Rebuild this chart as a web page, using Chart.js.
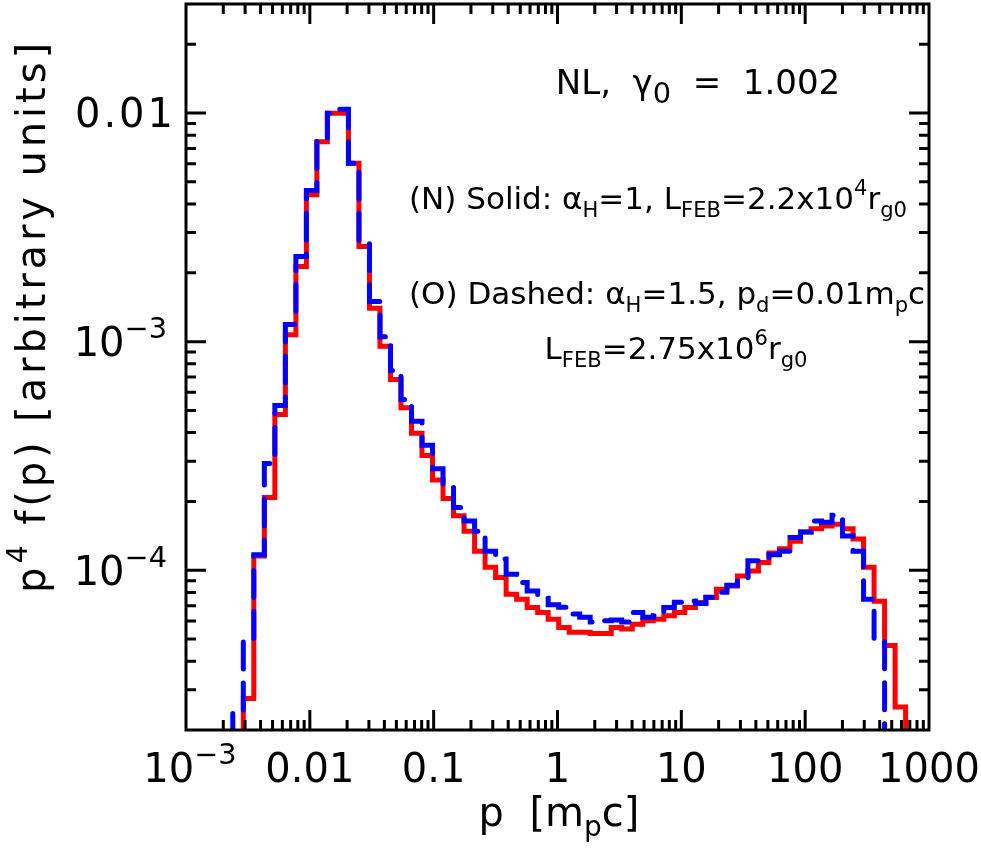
<!DOCTYPE html>
<html><head><meta charset="utf-8">
<script src="https://cdn.jsdelivr.net/npm/chart.js@4/dist/chart.umd.min.js"></script>
<style>html,body{margin:0;padding:0;background:#fff;}canvas{display:block;}</style>
</head><body>
<canvas id="c" width="981" height="861"></canvas>
<script>
// Momentum bin edges p [m_p c] (log-spaced histogram bins)
const pEdges = [0.002387, 0.002903, 0.003529, 0.004292, 0.005219, 0.006345, 0.007716, 0.009378,
  0.01140, 0.01386, 0.01686, 0.02050, 0.02492, 0.03031, 0.03684, 0.04480, 0.05446, 0.06622,
  0.08050, 0.09790, 0.1190, 0.1447, 0.1760, 0.2140, 0.2602, 0.3164, 0.3847, 0.4677, 0.5687,
  0.6915, 0.8408, 1.0224, 1.243, 1.511, 1.838, 2.234, 2.716, 3.303, 4.016, 4.883, 5.937,
  7.219, 8.778, 10.67, 12.98, 15.78, 19.19, 23.33, 28.37, 34.49, 41.94, 51.00, 62.01, 75.40,
  91.67, 111.5, 135.5, 164.8, 200.4, 243.6, 296.2, 360.2, 437.9, 532.5, 647.4];

// (N) Solid, red: bins start at pEdges[1]
const solidStart = 1;
const solidValues = [2.75e-5, 1.154e-4, 2.08e-4, 4.80e-4, 1.073e-3, 2.13e-3, 4.39e-3, 7.49e-3,
  9.97e-3, 9.97e-3, 6.03e-3, 2.61e-3, 1.40e-3, 9.54e-4, 6.83e-4, 5.14e-4, 3.97e-4, 3.18e-4,
  2.48e-4, 2.06e-4, 1.73e-4, 1.48e-4, 1.21e-4, 1.03e-4, 9.29e-5, 7.86e-5, 7.47e-5, 6.87e-5,
  6.54e-5, 6.11e-5, 5.62e-5, 5.35e-5, 5.35e-5, 5.29e-5, 5.29e-5, 5.62e-5, 5.53e-5, 5.81e-5,
  6.01e-5, 6.11e-5, 6.32e-5, 6.54e-5, 6.87e-5, 7.23e-5, 7.60e-5, 8.26e-5, 8.54e-5, 9.44e-5,
  9.93e-5, 1.08e-4, 1.19e-4, 1.24e-4, 1.34e-4, 1.47e-4, 1.52e-4, 1.56e-4, 1.59e-4, 1.52e-4,
  1.37e-4, 1.03e-4, 7.32e-5, 4.68e-5, 2.52e-5];

// (O) Dashed, blue: bins start at pEdges[0]
const dashedStart = 0;
const dashedValues = [2.42e-5, 5.00e-5, 1.17e-4, 2.93e-4, 5.25e-4, 1.19e-3, 2.36e-3, 4.58e-3,
  7.68e-3, 9.97e-3, 1.038e-2, 6.03e-3, 2.71e-3, 1.50e-3, 1.05e-3, 7.47e-4, 5.58e-4, 4.49e-4,
  3.52e-4, 2.78e-4, 2.33e-4, 1.88e-4, 1.64e-4, 1.48e-4, 1.21e-4, 1.12e-4, 9.61e-5, 8.84e-5,
  8.12e-5, 7.55e-5, 7.06e-5, 6.89e-5, 6.43e-5, 6.23e-5, 5.93e-5, 6.01e-5, 6.05e-5, 5.93e-5,
  6.54e-5, 6.23e-5, 6.32e-5, 6.87e-5, 7.25e-5, 7.34e-5, 7.16e-5, 7.62e-5, 8.01e-5, 8.60e-5,
  9.14e-5, 1.10e-4, 1.12e-4, 1.17e-4, 1.21e-4, 1.39e-4, 1.47e-4, 1.64e-4, 1.62e-4, 1.74e-4,
  1.41e-4, 1.21e-4, 7.47e-5, 5.00e-5];

const xTickValues = [1e-3, 1e-2, 1e-1, 1, 10, 100, 1000];
const xTickLabels = ['10^−3', '0.01', '0.1', '1', '10', '100', '1000'];
const yTickValues = [1e-2, 1e-3, 1e-4];
const yTickLabels = ['0.01', '10^−3', '10^−4'];
const xRange = [1e-3, 1e3];
const yRange = [2e-5, 3e-2];
const FLOOR = 1e-6;

function histPoints(start, values) {
  const pts = [{x: pEdges[start], y: FLOOR}];
  values.forEach((v, i) => pts.push({x: pEdges[start + i], y: v}));
  pts.push({x: pEdges[start + values.length], y: FLOOR});
  return pts;
}

const FONT = '"DejaVu Sans", "Liberation Sans", sans-serif';
const N = t => ({t});
const SUP = (t, s) => ({t, s: s || 0.68, dy: -0.45});
const SUB = (t, s) => ({t, s: s || 0.68, dy: 0.25});
function partWidth(ctx, p, size, ls) {
  ctx.font = (size * (p.s || 1)) + 'px ' + FONT;
  if (!ls) return ctx.measureText(p.t).width;
  let w = 0; for (const ch of p.t) w += ctx.measureText(ch).width + ls; return w;
}
function drawRich(ctx, parts, x, y, size, align, ls) {
  const ws = parts.map(p => partWidth(ctx, p, size, ls));
  const total = ws.reduce((a, b) => a + b, 0);
  let cx = align === 'center' ? x - total / 2 : align === 'right' ? x - total : x;
  ctx.textAlign = 'left'; ctx.textBaseline = 'alphabetic';
  parts.forEach((p, i) => {
    ctx.font = (size * (p.s || 1)) + 'px ' + FONT;
    const yy = y + (p.dy || 0) * size;
    if (!ls) { ctx.fillText(p.t, cx, yy); cx += ws[i]; }
    else { for (const ch of p.t) { ctx.fillText(ch, cx, yy); cx += ctx.measureText(ch).width + ls; } }
  });
  return total;
}
function labelParts(lbl) {
  if (lbl.indexOf('^') >= 0) { const [b, e] = lbl.split('^'); return [N(b), SUP(e, 0.72)]; }
  return [N(lbl)];
}

const framePlugin = {
  id: 'frame',
  afterDatasetsDraw(chart) {
    const ctx = chart.ctx, a = chart.chartArea, xs = chart.scales.x, ys = chart.scales.y;
    ctx.save();
    ctx.strokeStyle = '#000'; ctx.fillStyle = '#000'; ctx.lineWidth = 3; ctx.lineCap = 'butt';
    ctx.strokeRect(a.left, a.top, a.right - a.left, a.bottom - a.top);
    const MAJ = 20, MIN = 10;
    ctx.beginPath();
    for (let k = -3; k <= 2; k++) for (let m = 1; m <= 9; m++) {
      const v = m * Math.pow(10, k); if (v <= xRange[0] || v >= xRange[1]) continue;
      const px = xs.getPixelForValue(v), L = m === 1 ? MAJ : MIN;
      ctx.moveTo(px, a.bottom); ctx.lineTo(px, a.bottom - L);
      ctx.moveTo(px, a.top); ctx.lineTo(px, a.top + L);
    }
    for (let k = -5; k <= -2; k++) for (let m = 1; m <= 9; m++) {
      const v = m * Math.pow(10, k); if (v <= yRange[0] || v >= yRange[1]) continue;
      const py = ys.getPixelForValue(v), L = m === 1 ? MAJ : MIN;
      ctx.moveTo(a.left, py); ctx.lineTo(a.left + L, py);
      ctx.moveTo(a.right, py); ctx.lineTo(a.right - L, py);
    }
    ctx.stroke();
    // tick labels
    const TS = 40;
    xTickValues.forEach((v, i) => drawRich(ctx, labelParts(xTickLabels[i]), xs.getPixelForValue(v) + (i === 0 ? 4 : 0), 782, TS, 'center'));
    yTickValues.forEach((v, i) => drawRich(ctx, labelParts(yTickLabels[i]), i === 0 ? 176 : 167, ys.getPixelForValue(v) + 0.36 * TS, TS, 'right', i === 0 ? 3 : 0));
    // axis titles
    drawRich(ctx, [N('p  [m'), SUB('p', 0.7), N('c]')], 559, 826, 40, 'center');
    ctx.save(); ctx.translate(45, 316); ctx.rotate(-Math.PI / 2);
    drawRich(ctx, [N('p'), SUP('4', 0.72), N(' f(p) [arbitrary units]')], 0, 0, 40, 'center', 3.9);
    ctx.restore();
    // annotations
    drawRich(ctx, [N('NL,  γ'), SUB('0', 0.85), N('  =  1.002')], 698, 94, 34, 'center');
    drawRich(ctx, [N('(N) Solid: α'), SUB('H'), N('=1, L'), SUB('FEB'), N('=2.2x10'), SUP('4'), N('r'), SUB('g0')], 409, 209, 31, 'left');
    drawRich(ctx, [N('(O) Dashed: α'), SUB('H'), N('=1.5, p'), SUB('d'), N('=0.01m'), SUB('p'), N('c')], 409, 304, 31, 'left');
    drawRich(ctx, [N('L'), SUB('FEB'), N('=2.75x10'), SUP('6'), N('r'), SUB('g0')], 676, 359, 31, 'center');
    ctx.restore();
  }
};

new Chart(document.getElementById('c'), {
  type: 'line',
  data: {
    datasets: [
      { label: '(O) Dashed', data: histPoints(dashedStart, dashedValues), stepped: 'before',
        borderColor: '#0000ff', borderWidth: 5, borderDash: [27, 14], borderCapStyle: 'round',
        pointRadius: 0, fill: false, order: 0, clip: 0 },
      { label: '(N) Solid', data: histPoints(solidStart, solidValues), stepped: 'before',
        borderColor: '#ff0000', borderWidth: 5, pointRadius: 0, fill: false, order: 1, clip: 0 }
    ]
  },
  options: {
    responsive: false, animation: false, devicePixelRatio: 1, parsing: true,
    layout: { padding: { left: 186, right: 52, top: 4, bottom: 131 } },
    plugins: { legend: { display: false }, tooltip: { enabled: false }, title: { display: false } },
    scales: {
      x: { type: 'logarithmic', min: xRange[0], max: xRange[1], display: false },
      y: { type: 'logarithmic', min: yRange[0], max: yRange[1], display: false }
    }
  },
  plugins: [framePlugin]
});
</script>
</body></html>
